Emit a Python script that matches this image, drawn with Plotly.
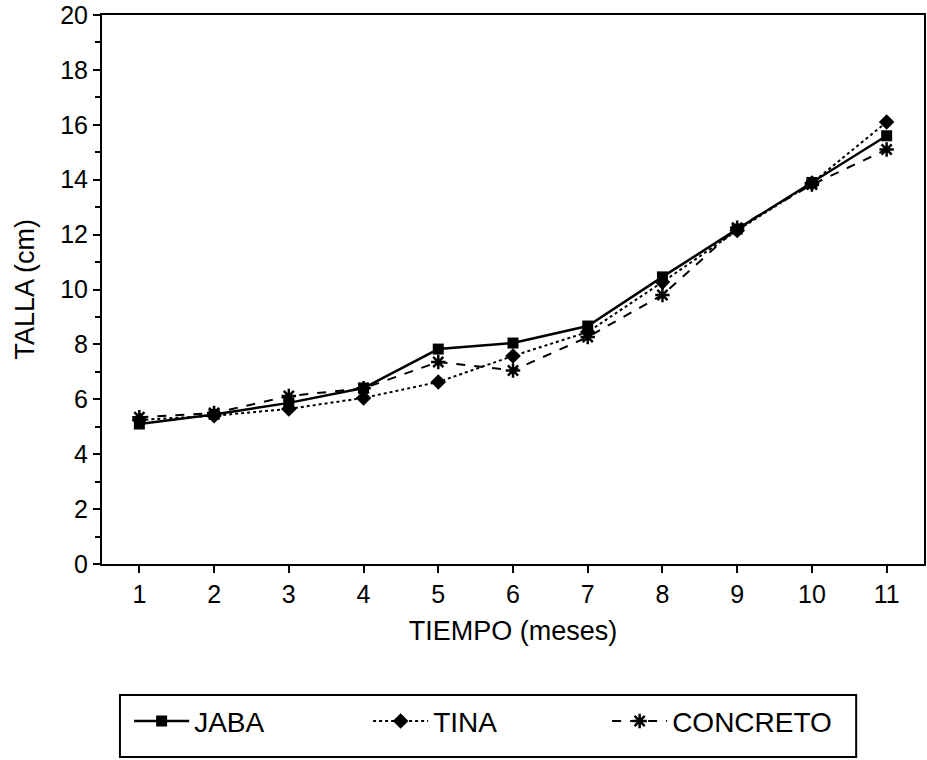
import plotly.graph_objects as go

meses = [1, 2, 3, 4, 5, 6, 7, 8, 9, 10, 11]
jaba = [5.10, 5.45, 5.87, 6.41, 7.83, 8.05, 8.67, 10.46, 12.20, 13.90, 15.60]
tina = [5.25, 5.40, 5.65, 6.05, 6.63, 7.58, 8.45, 10.27, 12.15, 13.88, 16.10]
concreto = [5.35, 5.50, 6.12, 6.40, 7.36, 7.05, 8.27, 9.80, 12.25, 13.82, 15.10]
ytickvals = [0, 2, 4, 6, 8, 10, 12, 14, 16, 18, 20]

FONT = "Liberation Sans, Arial, sans-serif"

fig = go.Figure()
fig.add_trace(go.Scatter(x=meses, y=jaba, name="JABA", mode="lines+markers",
                         line=dict(color="black", width=2.5, dash="solid"),
                         marker=dict(symbol="square", size=11, color="black")))
fig.add_trace(go.Scatter(x=meses, y=tina, name="TINA", mode="lines+markers",
                         line=dict(color="black", width=2, dash="dot"),
                         marker=dict(symbol="diamond", size=12, color="black")))
fig.add_trace(go.Scatter(x=meses, y=concreto, name="CONCRETO", mode="lines+markers",
                         line=dict(color="black", width=2, dash="dash"),
                         marker=dict(symbol="asterisk-open", size=12, color="black",
                                     line=dict(color="black", width=2.5))))

fig.update_layout(
    width=927, height=760,
    margin=dict(l=102, r=1, t=15, b=196),
    paper_bgcolor="white", plot_bgcolor="white",
    font=dict(family=FONT, color="black", size=25),
    showlegend=True,
    legend=dict(orientation="h", x=0.033, y=-0.241, xanchor="left", yanchor="top",
                bgcolor="rgba(0,0,0,0)", borderwidth=0,
                font=dict(family=FONT, size=28, color="black"),
                entrywidth=169, entrywidthmode="pixels", itemwidth=55),
    shapes=[dict(type="rect", xref="paper", yref="paper",
                 x0=(120 - 102) / 824, x1=(858 - 102) / 824,
                 y0=(564 - 695) / 549, y1=(564 - 757) / 549,
                 line=dict(color="black", width=2))],
    annotations=[dict(text="TALLA (cm)", textangle=-90, xref="paper", yref="paper",
                      x=0, y=0.5, xanchor="center", yanchor="middle", xshift=-78,
                      showarrow=False, font=dict(family=FONT, size=27, color="black"))],
)

fig.update_xaxes(range=[0.5, 11.5], tickvals=meses, ticks="outside", ticklen=7, tickwidth=2,
                 tickcolor="black", showline=True, linecolor="black", linewidth=2, mirror=True,
                 showgrid=False, zeroline=False, tickfont=dict(size=25),
                 title=dict(text="TIEMPO (meses)", font=dict(size=27), standoff=14))
fig.update_yaxes(range=[0, 20], tickvals=ytickvals, ticks="outside", ticklen=7, tickwidth=2,
                 tickcolor="black", showline=True, linecolor="black", linewidth=2, mirror=True,
                 showgrid=False, zeroline=False, tickfont=dict(size=25),
                 minor=dict(ticks="outside", ticklen=5, tickwidth=2, tickcolor="black", dtick=1, showgrid=False))

fig.write_html("out.html")
